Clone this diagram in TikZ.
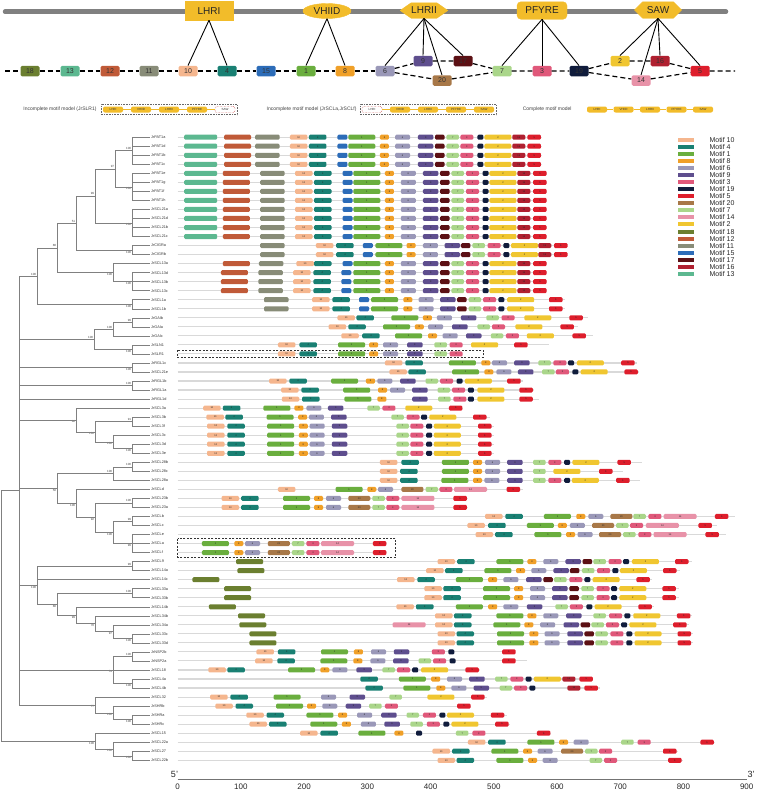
\documentclass[tikz,border=0pt]{standalone}
\usepackage{fontspec}
\setmainfont{Liberation Sans}
\usetikzlibrary{shapes.geometric,shapes.symbols,fit,positioning}

% motif colours
\definecolor{mc1}{RGB}{106,174,62}
\definecolor{mc2}{RGB}{240,198,48}
\definecolor{mc3}{RGB}{224,88,122}
\definecolor{mc4}{RGB}{25,128,115}
\definecolor{mc5}{RGB}{222,30,44}
\definecolor{mc6}{RGB}{154,152,184}
\definecolor{mc7}{RGB}{170,214,138}
\definecolor{mc8}{RGB}{240,160,40}
\definecolor{mc9}{RGB}{94,78,142}
\definecolor{mc10}{RGB}{245,182,142}
\definecolor{mc11}{RGB}{136,140,120}
\definecolor{mc12}{RGB}{192,90,56}
\definecolor{mc13}{RGB}{92,184,144}
\definecolor{mc14}{RGB}{232,146,168}
\definecolor{mc15}{RGB}{44,108,184}
\definecolor{mc16}{RGB}{176,32,48}
\definecolor{mc17}{RGB}{92,16,20}
\definecolor{mc18}{RGB}{107,127,48}
\definecolor{mc19}{RGB}{16,28,60}
\definecolor{mc20}{RGB}{168,120,72}
\definecolor{gold}{RGB}{242,188,42}

\tikzset{
  gene/.style={draw=black!15, line width=1.1pt},
  mot/.style={rounded corners=1.2pt, minimum height=5pt, inner sep=0pt, anchor=west, text=black!85, font=\fontsize{2.4}{2.4}\selectfont},
  mot1/.style={mot, fill=mc1, minimum width=27pt},
  mot2/.style={mot, fill=mc2, minimum width=27pt},
  mot3/.style={mot, fill=mc3, minimum width=13pt},
  mot4/.style={mot, fill=mc4, minimum width=17.5pt},
  mot5/.style={mot, fill=mc5, minimum width=13.5pt},
  mot6/.style={mot, fill=mc6, minimum width=15pt},
  mot7/.style={mot, fill=mc7, minimum width=12.5pt},
  mot8/.style={mot, fill=mc8, minimum width=9pt},
  mot9/.style={mot, fill=mc9, minimum width=15.5pt},
  mot10/.style={mot, fill=mc10, minimum width=17.5pt},
  mot11/.style={mot, fill=mc11, minimum width=24.5pt, text=mc11},
  mot12/.style={mot, fill=mc12, minimum width=27pt, text=mc12},
  mot13/.style={mot, fill=mc13, minimum width=33pt, text=mc13},
  mot14/.style={mot, fill=mc14, minimum width=33pt},
  mot15/.style={mot, fill=mc15, minimum width=10pt, text=mc15},
  mot16/.style={mot, fill=mc16, minimum width=13pt},
  mot17/.style={mot, fill=mc17, minimum width=9.5pt, text=mc17},
  mot18/.style={mot, fill=mc18, minimum width=27pt, text=mc18},
  mot19/.style={mot, fill=mc19, minimum width=6pt, text=mc19},
  mot20/.style={mot, fill=mc20, minimum width=22pt},
}

\newcommand{\clade}[2]{\foreach \kid in {#2}{\draw[br] (#1) |- (\kid);}}

\begin{document}
\begin{tikzpicture}[
    x=1pt, y=-1pt,
    leaf/.style={anchor=west, inner xsep=1pt, inner ysep=0pt, font=\fontsize{3.8}{4}\selectfont, text=black!80},
    br/.style={draw=black!50, line width=0.5pt},
    bsu/.style={anchor=south east, inner sep=0.7pt, font=\fontsize{3}{3}\selectfont, text=black!75},
    bsd/.style={anchor=north east, inner sep=0.7pt, font=\fontsize{3}{3}\selectfont, text=black!75},
    dom/.style={fill=gold, draw=gold, inner sep=0pt, font=\fontsize{10}{10}\selectfont, text=black!85},
    tm/.style={rounded corners=1.5pt, minimum width=19pt, minimum height=10.5pt, inner sep=0pt, font=\fontsize{7}{7}\selectfont, text=black!80},
    dline/.style={dash pattern=on 5pt off 3pt, line width=1.2pt},
    dl/.style={line width=0.9pt},
    pill/.style={fill=gold, rounded corners=2pt, minimum width=20pt, minimum height=6pt, inner sep=0pt, font=\fontsize{3}{3}\selectfont, text=black!80},
    nopill/.style={pill, fill=white, draw=red!70!black, line width=0.4pt, densely dotted},
    pline/.style={draw=gold, line width=0.8pt},
    dotbox/.style={draw=black!60, densely dotted, line width=0.6pt, inner sep=2pt},
    mtxt/.style={anchor=east, font=\fontsize{5}{5}\selectfont, text=black!75},
    dbox/.style={draw=black!80, dash pattern=on 2pt off 1.5pt, line width=0.7pt},
    axl/.style={font=\fontsize{8}{8}\selectfont, text=black!85},
    leg/.style={anchor=west, font=\fontsize{7}{7}\selectfont, text=black!85},
]
\useasboundingbox (0,0) rectangle (756,790);

% ---- domain bar ----
\draw[line width=4.5pt, black!50, line cap=round] (5,11.7) -- (726,11.7);
\node[dom, minimum width=48pt, minimum height=18.5pt] (LHRI) at (209,10.8) {LHRI};
\node[dom, ellipse, minimum width=48pt, minimum height=15pt] (VHIID) at (327,11) {VHIID};
\node[dom, signal, signal to=west and east, signal pointer angle=70, minimum width=46pt, minimum height=15.5pt] (LHRII) at (424,10.5) {LHRII};
\node[dom, rounded corners=4pt, minimum width=50pt, minimum height=17.5pt] (PFYRE) at (542,10.5) {PFYRE};
\node[dom, signal, signal to=west and east, signal pointer angle=90, minimum width=47pt, minimum height=16.5pt] (SAW) at (658,10) {SAW};

% ---- motif order ----
\foreach \m/\x/\y in {18/30/71,13/70/71,12/110/71,11/149/71,10/188/71,4/227/71,15/266/71,1/306/71,8/345/71,6/385/71,9/423/61,17/463/61,20/442/80.5,7/502/71,3/542/71,19/579/71,2/620/61,16/660/61,14/641/80.5,5/700/71}
  \node[tm, fill=mc\m] (t\m) at (\x,\y) {\m};
\coordinate (lend) at (5,71);
\coordinate (rend) at (735,71);
\draw[dline] (lend) -- (t18) -- (t13) -- (t12) -- (t11) -- (t10) -- (t4) -- (t15) -- (t1) -- (t8) -- (t6);
\draw[dline] (t6) -- (t9) -- (t17) -- (t7) -- (t3) -- (t19) -- (t2) -- (t16) -- (t5) -- (rend);
\draw[dline] (t6) -- (t20) -- (t7);
\draw[dline] (t19) -- (t14) -- (t5);
\foreach \t in {10,4} \draw[dl] (LHRI.south) -- (t\t.north);
\foreach \t in {1,8} \draw[dl] (VHIID.south) -- (t\t.north);
\foreach \t in {6,9,20,17} \draw[dl] (LHRII.south) -- (t\t.north);
\foreach \t in {7,3,19} \draw[dl] (PFYRE.south) -- (t\t.north);
\foreach \t in {2,14,16,5} \draw[dl] (SAW.south) -- (t\t.north);

% ---- motif models ----
\node[mtxt] (ma) at (100,109.5) {Incomplete motif model (JrSLR1)};
\foreach \lab/\x/\st [count=\k] in {LHRI/113/pill,VHIID/141/pill,LHRII/169/pill,PFYRE/197/pill,SAW/225/nopill}
  \node[\st] (sa\k) at (\x,109.5) {\lab};
\draw[pline] (sa1) -- (sa2) -- (sa3) -- (sa4) -- (sa5);
\node[dotbox, fit=(sa1)(sa5)] (boxa) {};

\node[mtxt] (mb) at (360,109.5) {Incomplete motif model (JrSCLa,JrSCLf)};
\foreach \lab/\x/\st [count=\k] in {LHRI/372/nopill,VHIID/400/pill,LHRII/428/pill,PFYRE/456/pill,SAW/484/pill}
  \node[\st] (sb\k) at (\x,109.5) {\lab};
\draw[pline] (sb1) -- (sb2) -- (sb3) -- (sb4) -- (sb5);
\node[dotbox, fit=(sb1)(sb5)] (boxb) {};

\node[mtxt] (mc) at (575,109.5) {Complete motif model};
\foreach \lab/\x [count=\k] in {LHRI/597,VHIID/623.5,LHRII/650,PFYRE/676.5,SAW/703}
  \node[pill] (sc\k) at (\x,109.5) {\lab};
\draw[pline] (sc1) -- (sc2) -- (sc3) -- (sc4) -- (sc5);

% ---- genes and motifs ----
\begin{scope}[y=-9.03pt, yshift=-128.17pt]
\foreach \r/\g/\e/\ml in {
  1/PAT1a/575/{13/10,12/73,11/122,10/177,4/207,15/252,1/269,8/319,6/343,9/379,17/406,7/424,3/446,19/473,2/484,16/528,5/552},
  2/PAT1d/575/{13/10,12/73,11/122,10/177,4/207,15/252,1/269,8/319,6/343,9/379,17/406,7/424,3/446,19/473,2/484,16/528,5/552},
  3/PAT1b/575/{13/10,12/73,11/122,10/177,4/207,15/252,1/269,8/319,6/343,9/379,17/406,7/424,3/446,19/473,2/484,16/528,5/552},
  4/PAT1c/575/{13/10,12/73,11/122,10/177,4/207,15/252,1/269,8/319,6/343,9/379,17/406,7/424,3/446,19/473,2/484,16/528,5/552},
  5/PAT1e/583/{13/10,12/71,11/130,10/185,4/215,15/260,1/277,8/327,6/352,9/387,17/414,7/432,3/455,19/481,2/492,16/536,5/561},
  6/PAT1g/583/{13/10,12/71,11/130,10/185,4/215,15/260,1/277,8/327,6/352,9/387,17/414,7/432,3/455,19/481,2/492,16/536,5/561},
  7/PAT1f/583/{13/10,12/71,11/130,10/185,4/215,15/260,1/277,8/327,6/352,9/387,17/414,7/432,3/455,19/481,2/492,16/536,5/561},
  8/PAT1h/583/{13/10,12/71,11/130,10/185,4/215,15/260,1/277,8/327,6/352,9/387,17/414,7/432,3/455,19/481,2/492,16/536,5/561},
  9/SCL21a/583/{13/10,12/71,11/130,10/185,4/215,15/260,1/277,8/327,6/352,9/387,17/414,7/432,3/455,19/481,2/492,16/536,5/561},
  10/SCL21d/583/{13/10,12/71,11/130,10/185,4/215,15/260,1/277,8/327,6/352,9/387,17/414,7/432,3/455,19/481,2/492,16/536,5/561},
  11/SCL21b/583/{13/10,12/71,11/130,10/185,4/215,15/260,1/277,8/327,6/352,9/387,17/414,7/432,3/455,19/481,2/492,16/536,5/561},
  12/SCL21c/583/{13/10,12/71,11/130,10/185,4/215,15/260,1/277,8/327,6/352,9/387,17/414,7/432,3/455,19/481,2/492,16/536,5/561},
  13/CIGRa/615/{11/130,10/218,4/250,15/292,1/312,8/361,6/387,9/421,17/447,7/465,3/489,19/514,2/526,16/569,5/594},
  14/CIGRb/615/{11/130,10/218,4/250,15/292,1/312,8/361,6/387,9/421,17/447,7/465,3/489,19/514,2/526,16/569,5/594},
  15/SCL13a/583/{12/71,11/128,10/187,4/215,15/260,1/277,8/327,6/352,9/387,17/414,7/432,3/455,19/481,2/492,16/536,5/561},
  16/SCL13d/583/{12/68,11/127,10/182,4/214,15/258,1/277,8/327,6/352,9/387,17/414,7/432,3/455,19/481,2/492,16/536,5/561},
  17/SCL13b/583/{12/68,11/127,10/182,4/214,15/258,1/277,8/327,6/352,9/387,17/414,7/432,3/455,19/481,2/492,16/536,5/561},
  18/SCL13c/583/{12/68,11/127,10/182,4/214,15/258,1/277,8/327,6/352,9/387,17/414,7/432,3/455,19/481,2/492,16/536,5/561},
  19/SCL1a/612/{11/136,10/212,4/244,15/286,1/305,8/356,6/380,9/414,17/441,7/459,3/482,19/506,2/520,5/586},
  20/SCL1b/612/{11/136,10/212,4/244,15/286,1/305,8/356,6/380,9/414,17/441,7/459,3/482,19/506,2/520,5/586},
  21/GAIb/648/{10/252,4/282,1/337,8/387,6/409,9/447,7/487,3/511,2/547,5/618},
  22/GAIa/632/{10/238,4/269,1/324,8/374,6/395,9/433,7/473,3/496,2/533,5/604},
  23/GAIc/656/{10/258,4/291,1/343,8/395,6/418,9/455,7/494,3/518,2/551,5/623},
  24/SLN1/586/{10/158,4/192,1/253,8/302,6/324,9/362,7/405,3/429,2/463,5/531},
  25/SLR1/449/{10/158,4/192,1/253,8/302,6/324,9/362,7/405,3/429},
  26/RGL1c/725/{10/327,4/359,1/428,8/479,6/496,9/531,7/569,3/593,19/616,2/630,5/700},
  27/SCL21e/729/{10/334,4/364,1/433,8/484,6/503,9/537,7/575,3/597,19/623,2/636,5/705},
  28/RGL1b/545/{10/144,4/176,1/242,8/297,6/315,9/351,7/391,3/414,19/440,2/453,5/520},
  29/RGL1a/563/{10/163,4/195,1/261,8/316,6/335,9/370,7/410,3/433,19/458,2/473,5/539},
  30/RGL1d/570/{10/164,4/196,1/263,8/315,9/370,7/411,3/435,19/458,2/473,5/539},
  31/SCL3a/451/{10/40,4/71,1/135,8/184,6/203,9/237,7/299,3/323,2/359,5/428},
  32/SCL3b/493/{10/45,4/75,1/140,8/190,6/207,9/242,7/337,3/361,19/384,2/397,5/466},
  33/SCL3f/500/{10/46,4/78,1/141,8/191,6/208,9/243,7/345,3/367,19/392,2/404,5/474},
  34/SCL3c/500/{10/46,4/78,1/141,8/191,6/208,9/243,7/345,3/367,19/392,2/404,5/474},
  35/SCL3d/500/{10/46,4/78,1/141,8/191,6/208,9/243,7/345,3/367,19/392,2/404,5/474},
  36/SCL3e/500/{10/46,4/78,1/141,8/191,6/208,9/243,7/345,3/367,19/392,2/404,5/474},
  37/SCL28b/733/{10/319,4/353,1/417,8/466,6/485,9/520,7/561,3/585,19/610,2/623,5/694},
  38/SCL28c/703/{10/319,4/351,1/417,8/466,6/485,9/520,7/561,2/593,5/665},
  39/SCL28a/730/{10/319,4/351,1/416,8/466,6/484,9/520,7/561,3/585,19/610,2/622,5/692},
  40/SCLd/545/{10/158,1/249,8/299,6/316,20/353,7/391,3/413,14/436,5/519},
  41/SCL23b/458/{10/69,4/100,1/166,8/215,6/234,20/269,7/307,3/329,14/353,5/435},
  42/SCL23a/458/{10/69,4/100,1/166,8/215,6/234,20/269,7/307,3/329,14/353,5/435},
  43/SCLb/880/{10/485,4/517,1/578,8/629,6/648,20/683,7/719,3/743,14/767,5/848},
  44/SCLc/852/{10/457,4/490,1/551,8/600,6/619,20/654,7/692,3/714,14/739,5/822},
  45/SCLe/866/{10/470,4/501,1/563,8/613,6/631,20/665,7/703,3/727,14/751,5/833},
  46/SCLa/330/{1/38,8/89,6/106,20/142,7/180,3/203,14/226,5/308},
  47/SCLf/330/{1/38,8/89,6/106,20/142,7/180,3/203,14/226,5/308},
  48/SCL9/812/{18/92,10/410,4/441,1/503,8/552,6/577,9/612,17/639,7/656,3/680,19/703,2/717,5/785},
  49/SCL14a/793/{18/94,10/392,4/422,1/484,8/534,6/558,9/593,17/619,7/638,3/662,19/686,2/698,5/766},
  50/SCL14c/749/{18/23,10/346,4/378,1/439,8/490,6/514,9/550,17/577,7/594,3/618,19/642,2/655,5/724},
  51/SCL33a/792/{18/73,10/389,4/419,1/482,8/531,6/556,9/591,17/618,7/637,3/661,19/684,2/697,5/765},
  52/SCL33b/792/{18/73,10/389,4/419,1/482,8/531,6/556,9/591,17/618,7/637,3/661,19/684,2/697,5/765},
  53/SCL14b/752/{18/49,10/345,4/376,1/439,8/490,6/514,9/551,7/596,3/619,19/645,2/658,5/727},
  54/SCL34b/812/{18/95,10/406,4/436,1/503,8/552,6/577,9/613,7/656,3/681,19/705,2/719,5/788},
  55/SCL34a/807/{18/97,14/339,10/406,4/436,1/498,8/547,6/572,9/609,17/636,7/653,3/676,19/700,2/713,5/782},
  56/SCL33c/814/{18/113,10/410,4/440,1/504,8/555,6/579,9/615,17/642,7/659,3/683,19/708,2/721,5/789},
  57/SCL33d/814/{18/113,10/410,4/440,1/504,8/555,6/579,9/615,17/642,7/659,3/683,19/708,2/721,5/789},
  58/NSP2b/532/{10/124,4/158,1/226,8/278,6/305,9/341,3/401,19/427,5/512},
  59/NSP2a/551/{10/122,4/157,1/225,8/277,6/304,9/340,7/380,3/403,19/429,5/512},
  60/SCL18/477/{10/48,4/78,1/174,8/225,6/244,9/282,7/323,3/346,19/370,2/384,5/454},
  61/SCL4a/656/{4/288,1/349,8/400,6/425,9/460,7/501,3/525,19/549,2/562,16/607,5/634},
  62/SCL4b/667/{4/296,1/356,8/408,6/432,9/467,7/508,3/531,19/555,16/615,5/642},
  63/SCL32/488/{10/51,4/83,1/151,6/226,9/271,7/334,2/394,5/463},
  64/SHRb/463/{10/59,4/91,1/155,8/204,6/228,9/265,7/302,3/327,5/441},
  65/SHRa/520/{10/108,4/140,1/203,8/253,6/283,9/321,7/361,3/387,19/413,2/425,5/494},
  66/SHRc/525/{10/113,4/144,1/209,8/259,6/289,9/326,7/367,3/393,19/419,2/432,5/501},
  67/SCL15/590/{10/193,4/225,1/285,8/342,19/376,7/439,3/465,5/567},
  68/SCL22a/849/{10/458,4/490,1/552,8/602,6/625,7/700,3/726,5/825},
  69/SCL27/790/{10/402,4/433,1/495,8/545,6/568,20/605,7/643,3/665,5/766},
  70/SCL22b/798/{10/410,4/440,1/503,8/553,6/576,7/650,3/673,5/774}}{
  \node[leaf] (\g) at (150,\r) {Jr\g};
  \begin{scope}[xshift=177.7pt, x=0.6333pt]
    \draw[gene] (0,\r) -- (\e,\r);
    \foreach \m/\s in \ml {\node[mot\m] at (\s,\r) {\m};}
  \end{scope}
}

% incomplete models marked
\draw[dbox] (177.7,24.57) rectangle (483,25.4);
\draw[dbox] (177.7,45.46) rectangle (395.7,47.52);

% ---- tree ----
\path (132,2.5) coordinate (cPATa) node[bsu] {100};
\path (132,6.5) coordinate (cPATe) node[bsd] {100};
\path (115,4.5) coordinate (n97) node[bsu] {97};
\path (132,10.5) coordinate (cSCLtf) node[bsd] {100};
\path (95,7.5) coordinate (n99) node[bsu] {99};
\path (132,13.5) coordinate (cCIGR) node[bsd] {100};
\path (76,10.5) coordinate (n51) node[bsu] {51};
\path (132,17) coordinate (cSCLth) node[bsd] {100};
\path (113,16) coordinate (nSCLth) node[bsd] {100};
\path (57,13.25) coordinate (n88a) node[bsu] {88};
\path (132,19.5) coordinate (cSCLone) node[bsd] {100};
\path (37,16.375) coordinate (nA) node[bsu] {100};
\path (132,21.5) coordinate (cGAI) node[bsu] {99};
\path (113,22.25) coordinate (nGAI) node[bsu] {100};
\path (132,24.5) coordinate (cSLN) node[bsd] {100};
\path (94,23.375) coordinate (nDELLA) node[bsu] {100};
\path (132,26.5) coordinate (cRGLc) node[bsd] {100};
\path (132,28.5) coordinate (cRGLb) node[bsu] {100};
\path (132,32.5) coordinate (cSCLbf) node[bsu] {91};
\path (132,35.5) coordinate (cSCLde) node[bsd] {100};
\path (113,34.75) coordinate (nSCLc) node[bsd] {100};
\path (95,33.625) coordinate (nSCLb) node[bsd] {100};
\path (76,32.3125) coordinate (nSCLthree) node[bsd] {88};
\path (132,37.5) coordinate (cSCLte) node[bsu] {100};
\path (113,38.25) coordinate (nSCLte) node[bsu] {100};
\path (132,41.5) coordinate (cSCLtt) node[bsu] {100};
\path (132,43.5) coordinate (cSCLbc) node[bsu] {99};
\path (132,46) coordinate (cSCLeaf) node[bsd] {99};
\path (113,44.75) coordinate (nSCLbe) node[bsd] {100};
\path (95,43.125) coordinate (n92) node[bsd] {92};
\path (76,41.5625) coordinate (nSCLd) node[bsd] {100};
\path (57,39.906) coordinate (n50) node[bsd] {50};
\path (132,48.5) coordinate (cSCLnine) node[bsu] {99};
\path (132,51.5) coordinate (cSCLab) node[bsu] {100};
\path (132,56.5) coordinate (cSCLcd) node[bsd] {100};
\path (113,55.75) coordinate (nSCLfa) node[bsd] {97};
\path (95,54.875) coordinate (nSCLfb) node[bsd] {70};
\path (76,53.94) coordinate (nSCLfour) node[bsd] {99};
\path (57,52.72) coordinate (n88b) node[bsd] {88};
\path (37,50.61) coordinate (nB) node[bsd] {100};
\path (132,58.5) coordinate (cNSP) node[bsu] {100};
\path (132,61.5) coordinate (cSCLfr) node[bsd] {100};
\path (113,60) coordinate (nNSP) node[bsd] {51};
\path (132,65.5) coordinate (cSHR) node[bsd] {100};
\path (113,64.75) coordinate (nSHR) node[bsd] {100};
\path (95,63.875) coordinate (n77) node[bsd] {77};
\path (19,40.125) coordinate (nMid);
\path (132,69.5) coordinate (cSCLtw) node[bsd] {100};
\path (113,68.75) coordinate (nSCLtw) node[bsd] {100};
\path (95,67.875) coordinate (nSCLff) node[bsd] {100};
\path (1,54) coordinate (root);

\clade{cPATa}{PAT1a,PAT1d,PAT1b,PAT1c}
\clade{cPATe}{PAT1e,PAT1g,PAT1f,PAT1h}
\clade{n97}{cPATa,cPATe}
\clade{cSCLtf}{SCL21a,SCL21d,SCL21b,SCL21c}
\clade{n99}{n97,cSCLtf}
\clade{cCIGR}{CIGRa,CIGRb}
\clade{n51}{n99,cCIGR}
\clade{cSCLth}{SCL13d,SCL13b,SCL13c}
\clade{nSCLth}{SCL13a,cSCLth}
\clade{n88a}{n51,nSCLth}
\clade{cSCLone}{SCL1a,SCL1b}
\clade{nA}{n88a,cSCLone}
\clade{cGAI}{GAIb,GAIa}
\clade{nGAI}{cGAI,GAIc}
\clade{cSLN}{SLN1,SLR1}
\clade{nDELLA}{nGAI,cSLN}
\clade{cRGLc}{RGL1c,SCL21e}
\clade{cRGLb}{RGL1b,RGL1a}
\clade{cSCLbf}{SCL3b,SCL3f}
\clade{cSCLde}{SCL3d,SCL3e}
\clade{nSCLc}{SCL3c,cSCLde}
\clade{nSCLb}{cSCLbf,nSCLc}
\clade{nSCLthree}{SCL3a,nSCLb}
\clade{cSCLte}{SCL28b,SCL28c}
\clade{nSCLte}{cSCLte,SCL28a}
\clade{cSCLtt}{SCL23b,SCL23a}
\clade{cSCLbc}{SCLb,SCLc}
\clade{cSCLeaf}{SCLe,SCLa,SCLf}
\clade{nSCLbe}{cSCLbc,cSCLeaf}
\clade{n92}{cSCLtt,nSCLbe}
\clade{nSCLd}{SCLd,n92}
\clade{n50}{nSCLte,nSCLd}
\clade{cSCLnine}{SCL9,SCL14a}
\clade{cSCLab}{SCL33a,SCL33b}
\clade{cSCLcd}{SCL33c,SCL33d}
\clade{nSCLfa}{SCL34a,cSCLcd}
\clade{nSCLfb}{SCL34b,nSCLfa}
\clade{nSCLfour}{SCL14b,nSCLfb}
\clade{n88b}{cSCLab,nSCLfour}
\clade{nB}{cSCLnine,SCL14c,n88b}
\clade{cNSP}{NSP2b,NSP2a}
\clade{cSCLfr}{SCL4a,SCL4b}
\clade{nNSP}{cNSP,SCL18,cSCLfr}
\clade{cSHR}{SHRa,SHRc}
\clade{nSHR}{SHRb,cSHR}
\clade{n77}{SCL32,nSHR}
\clade{nMid}{nA,nDELLA,cRGLc,cRGLb,RGL1d,nSCLthree,n50,nB,nNSP,n77}
\clade{cSCLtw}{SCL27,SCL22b}
\clade{nSCLtw}{SCL22a,cSCLtw}
\clade{nSCLff}{SCL15,nSCLtw}
\clade{root}{nMid,nSCLff}
\end{scope}

% ---- scale ----
\draw[black!55, line width=0.6pt] (177.7,779.3) -- (746.7,779.3);
\foreach \v in {0,100,...,900}
  \node[axl] (ax\v) at ({177.7+0.6322*\v},787) {\v};
\node[axl, font=\fontsize{9}{9}\selectfont] (five) at (174.5,774.5) {5'};
\node[axl, font=\fontsize{9}{9}\selectfont] (three) at (751,774.5) {3'};

% ---- legend ----
\foreach \m [count=\k from 0] in {10,4,1,8,6,9,3,19,5,20,7,14,2,18,12,11,15,17,16,13} {
  \fill[mc\m] (678,{138+7.04*\k}) rectangle (694,{142+7.04*\k});
  \node[leg] (lg\m) at (706,{140+7.04*\k}) {Motif \m};
}
\end{tikzpicture}
\end{document}
